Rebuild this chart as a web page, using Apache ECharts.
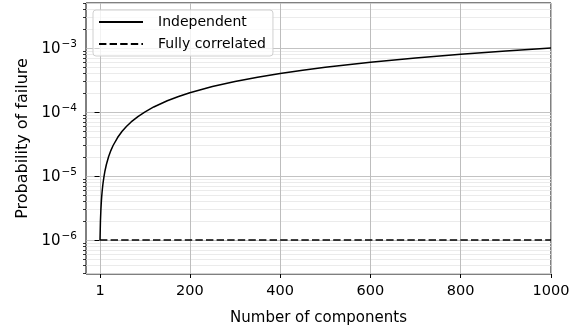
<!DOCTYPE html>
<html>
<head>
<meta charset="utf-8">
<script src="https://cdn.jsdelivr.net/npm/echarts@6/dist/echarts.min.js"></script>
<style>
  html, body { margin: 0; padding: 0; background: #fff; }
  #chart { width: 573px; height: 327px; }
</style>
</head>
<body>
<div id="chart"></div>
<script>
// Number of components in the system
const components = [1, 2, 3, 4, 5, 6, 7, 8, 10, 12, 15, 20, 25, 30, 40, 50, 60, 70, 85, 100, 120, 150, 175, 200, 250, 300, 350, 400, 450, 500, 600, 700, 800, 900, 1000];
// Probability of failure, independent components
const independent = [1e-6, 2e-6, 3e-6, 4e-6, 5e-6, 6e-6, 7e-6, 8e-6, 1.0e-5, 1.2e-5, 1.5e-5, 2.0e-5, 2.5e-5, 3.0e-5, 4.0e-5, 5.0e-5, 6.0e-5, 7.0e-5, 8.5e-5, 1.0e-4, 1.2e-4, 1.5e-4, 1.75e-4, 2.0e-4, 2.5e-4, 3.0e-4, 3.5e-4, 4.0e-4, 4.5e-4, 5.0e-4, 6.0e-4, 7.0e-4, 8.0e-4, 9.0e-4, 1.0e-3];
// Probability of failure, fully correlated components
const correlatedN = [1, 1000];
const correlated = [1e-6, 1e-6];

const xTicks = [1, 200, 400, 600, 800, 1000];
const yTicks = [1e-6, 1e-5, 1e-4, 1e-3];

const yMin = 2.95e-7, yMax = 5.05e-3;
const xMin = -30, xMax = 1000;

// minor decade subdivisions (2..9 x 10^e) inside the visible range
const yMinor = [];
for (let e = -7; e <= -3; e++) {
  for (let k = 2; k <= 9; k++) {
    const v = k * Math.pow(10, e);
    if (v >= yMin && v <= yMax) yMinor.push(v);
  }
}

const FONT = 'DejaVu Sans';

const chart = echarts.init(document.getElementById('chart'), null, { renderer: 'canvas' });

function pairs(xs, ys) { return xs.map((x, i) => [x, ys[i]]); }

function hLine(v, color) {
  return [
    { coord: [xMin, v], lineStyle: { color: color, width: 0.8, type: 'solid' } },
    { coord: [xMax, v] }
  ];
}
function vLine(v, color) {
  return [
    { coord: [v, yMin], lineStyle: { color: color, width: 1, type: 'solid' } },
    { coord: [v, yMax] }
  ];
}

const gridLines = [];
yMinor.forEach(v => gridLines.push(hLine(v, '#e6e6e6')));
yTicks.forEach(v => gridLines.push(hLine(v, '#b4b4b4')));
xTicks.forEach(v => gridLines.push(vLine(v, '#bdbdbd')));

chart.setOption({
  animation: false,
  backgroundColor: '#ffffff',
  textStyle: { fontFamily: FONT },
  grid: {
    left: 86, right: 22, top: 3, bottom: 53,
    containLabel: false, outerBoundsMode: 'none',
    show: true, borderColor: '#000', borderWidth: 1, backgroundColor: 'transparent'
  },
  legend: {
    data: ['Independent', 'Fully correlated'],
    orient: 'vertical',
    left: 93, top: 10,
    itemWidth: 44, itemHeight: 14, itemGap: 8,
    padding: [5, 7, 5, 5],
    backgroundColor: 'rgba(255,255,255,0.8)',
    borderColor: '#d0d0d0', borderWidth: 1, borderRadius: 3,
    itemStyle: { opacity: 0 },
    textStyle: { fontFamily: FONT, fontSize: 14, color: '#000', padding: [0, 0, 0, 10] }
  },
  xAxis: {
    type: 'value', min: xMin, max: xMax,
    name: 'Number of components', nameLocation: 'middle', nameGap: 37,
    nameTextStyle: { fontFamily: FONT, fontSize: 15, color: '#000' },
    axisLine: { show: false },
    axisTick: { show: true, inside: false, length: 4, customValues: xTicks, lineStyle: { color: '#000', width: 1 } },
    axisLabel: { customValues: xTicks, formatter: v => String(v), fontFamily: FONT, fontSize: 14.5, color: '#000', margin: 10 },
    splitLine: { show: false }
  },
  yAxis: [{
    type: 'log', logBase: 10, min: yMin, max: yMax,
    name: 'Probability of failure', nameLocation: 'middle', nameGap: 54,
    nameTextStyle: { fontFamily: FONT, fontSize: 16, color: '#000' },
    axisLine: { show: false },
    axisTick: { show: true, length: 5, customValues: yTicks, lineStyle: { color: '#000', width: 1 } },
    axisLabel: {
      customValues: yTicks, margin: 9,
      formatter: v => {
        const e = Math.round(Math.log10(v));
        return '{b|10}{s|' + String(e).replace('-', '\u2212') + '}';
      },
      rich: {
        b: { fontFamily: FONT, fontSize: 15, color: '#000', verticalAlign: 'bottom', lineHeight: 18, padding: [4, 0, 0, 0] },
        s: { fontFamily: FONT, fontSize: 10.5, color: '#000', verticalAlign: 'top', lineHeight: 18, padding: [0, 0, 6, 1] }
      }
    },
    splitLine: { show: false }
  }, {
    type: 'log', logBase: 10, min: yMin, max: yMax, position: 'left',
    axisLine: { show: false },
    axisTick: { show: true, length: 3, customValues: yMinor, lineStyle: { color: '#000', width: 0.8 } },
    axisLabel: { show: true, customValues: yMinor, formatter: () => '' },
    splitLine: { show: false }
  }],
  series: [{
    name: 'grid',
    type: 'line', yAxisIndex: 0,
    data: [],
    silent: true, z: 0,
    markLine: { silent: true, z: 0, zlevel: 0, symbol: ['none', 'none'], label: { show: false }, animation: false, data: gridLines }
  }, {
    name: 'Independent',
    type: 'line', yAxisIndex: 0,
    data: pairs(components, independent),
    showSymbol: false, symbol: 'none', z: 3,
    lineStyle: { color: '#000', width: 1.5, type: 'solid' },
    itemStyle: { color: '#000' }
  }, {
    name: 'Fully correlated',
    type: 'line', yAxisIndex: 0,
    data: pairs(correlatedN, correlated),
    showSymbol: false, symbol: 'none', z: 3,
    lineStyle: { color: '#000', width: 1.5, type: [7.4, 3.2] },
    itemStyle: { color: '#000' }
  }]
});
</script>
</body>
</html>
